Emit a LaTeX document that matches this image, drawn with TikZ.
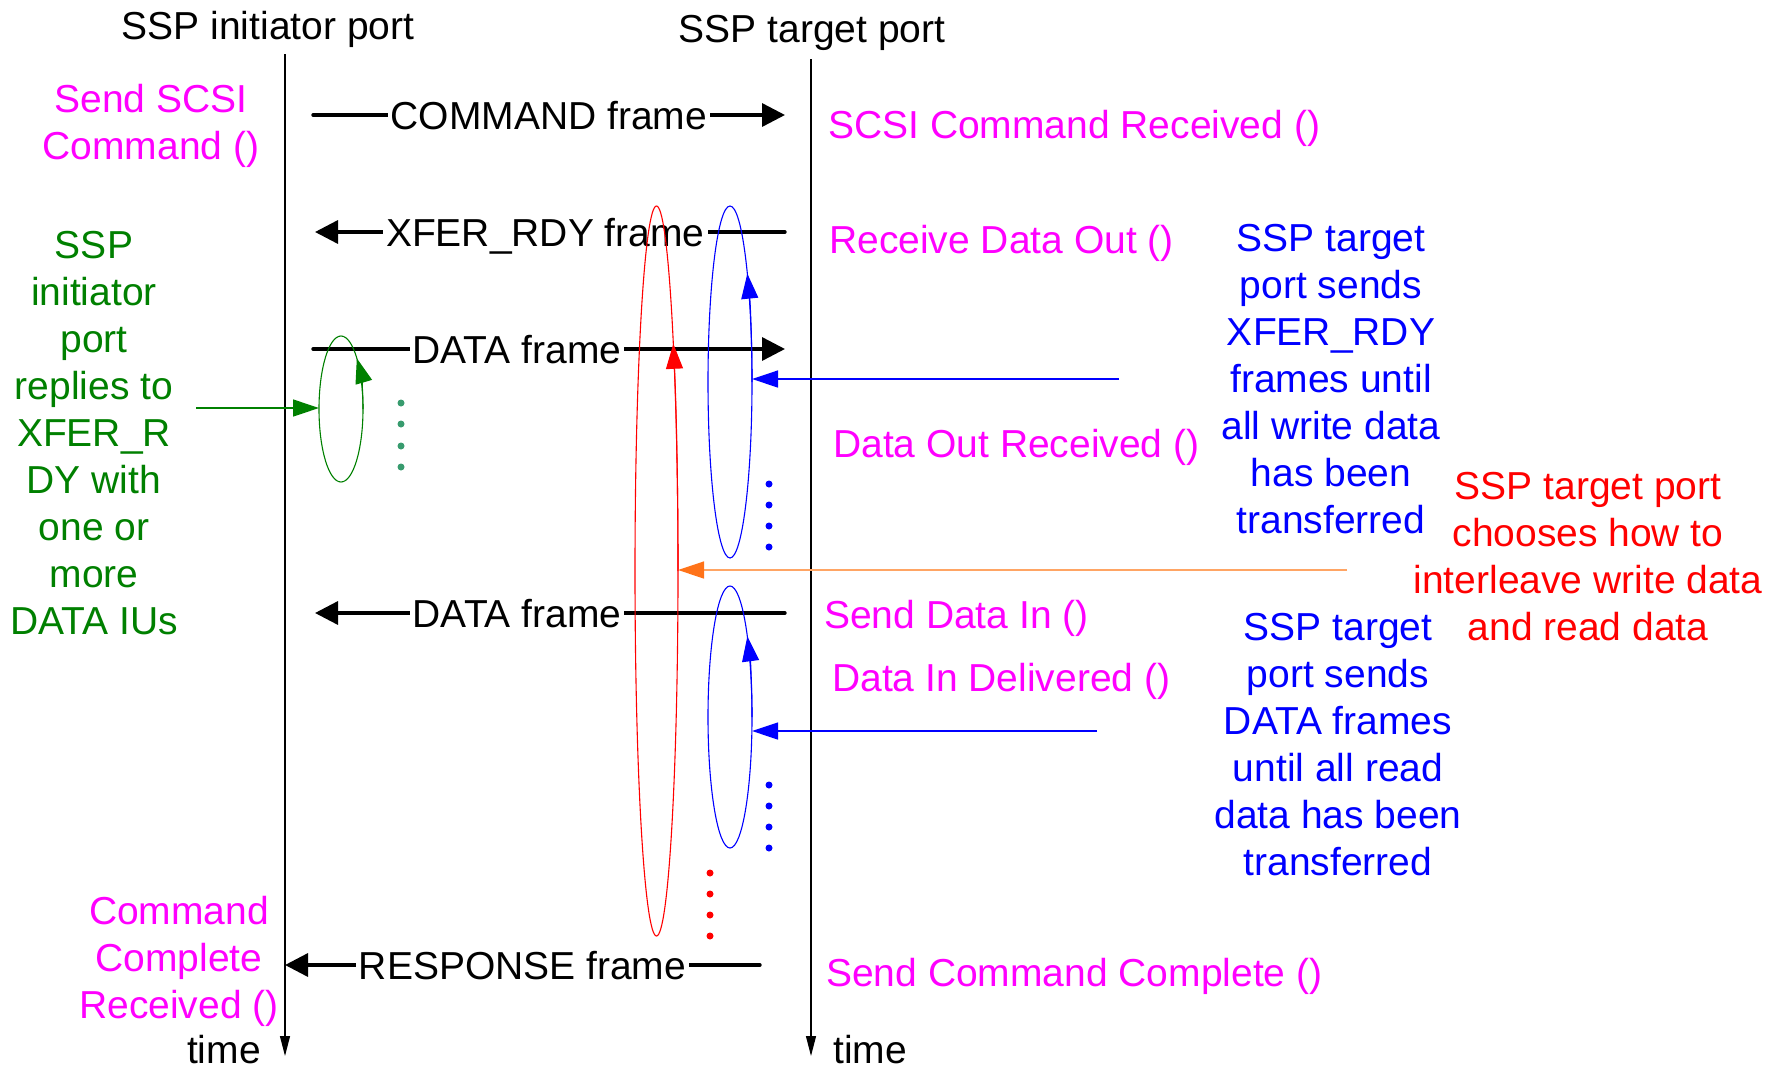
\documentclass[tikz,border=0pt]{standalone}
\usepackage{fontspec}
\setmainfont{Liberation Sans}
\usetikzlibrary{arrows.meta,shapes.geometric}

\definecolor{sspmag}{RGB}{255,0,255}
\definecolor{sspgreen}{RGB}{0,128,0}
\definecolor{sspdot}{RGB}{56,155,110}
\definecolor{sspblue}{RGB}{0,0,255}
\definecolor{sspred}{RGB}{255,0,0}
\definecolor{ssporange}{RGB}{255,115,25}
\definecolor{ssporangeline}{RGB}{255,165,100}

\begin{document}
\begin{tikzpicture}[
  x=1pt, y=-1pt,
  font=\fontsize{39}{47}\selectfont,
  every node/.style={inner sep=0pt},
  txt/.style={align=center},
  life/.style={line width=1.2pt, -{Triangle[length=20pt,width=10pt]}},
  msg/.style={line width=3.4pt, line cap=round, -{Triangle[length=23pt,width=23pt]}},
  frm/.style={fill=white, inner xsep=3pt, text height=28pt, text depth=0pt},
  oval/.style={ellipse, draw, line width=1.1pt, inner sep=0pt, outer sep=0pt},
  hint/.style={line width=1.3pt, -{Triangle[length=26pt,width=17pt]}},
  turn/.style={line width=1.1pt, -{Triangle[length=25pt,width=17pt]}}
]
\useasboundingbox (0,0) rectangle (1778,1068);

% lifelines
\node[anchor=base] (ihead) at (268,39) {SSP initiator port};
\node[anchor=base] (thead) at (812,42) {SSP target port};
\coordinate (itop) at (285,54);
\coordinate (iend) at (285,1056);
\coordinate (ttop) at (811,59);
\coordinate (tend) at (811,1056);
\draw[life] (itop) -- (iend);
\draw[life] (ttop) -- (tend);
\node[anchor=base east] (itime) at (261,1063) {time};
\node[anchor=base west] (ttime) at (833,1063) {time};

% frames
\coordinate (cmdA) at (313,115);
\coordinate (cmdB) at (785,115);
\coordinate (xfrA) at (785,232);
\coordinate (xfrB) at (315,232);
\coordinate (dtoA) at (313,349);
\coordinate (dtoB) at (785,349);
\coordinate (dtiA) at (785,613);
\coordinate (dtiB) at (315,613);
\coordinate (rspA) at (760,965);
\draw[msg] (cmdA) -- node[frm] {COMMAND frame} (cmdB);
\draw[msg] (xfrA) -- node[frm, pos=0.51] {XFER\_RDY frame} (xfrB);
\draw[msg] (dtoA) -- node[frm, pos=0.432] {DATA frame} (dtoB);
\draw[msg] (dtiA) -- node[frm, pos=0.57] {DATA frame} (dtiB);
\draw[msg] (rspA) -- node[frm] {RESPONSE frame} (rspA -| itop);

% initiator side
\node[txt, text=sspmag] (sendcmd) at (151,126) {Send SCSI\\Command ()};
\node[txt, text=sspgreen] (ireply) at (94,433.5)
  {SSP\\initiator\\port\\replies to\\XFER\_R\\DY with\\one or\\more\\DATA IUs};
\node[txt, text=sspmag] (cmddone) at (179,961) {Command\\Complete\\Received ()};

% target side
\node[anchor=base west, text=sspmag] (cmdrcv) at (828,138) {SCSI Command Received ()};
\node[anchor=base west, text=sspmag] (rcvout) at (829,253) {Receive Data Out ()};
\node[anchor=base west, text=sspmag] (outrcv) at (833,457) {Data Out Received ()};
\node[anchor=base west, text=sspmag] (sendin) at (824,628) {Send Data In ()};
\node[anchor=base west, text=sspmag] (indlv) at (832,691) {Data In Delivered ()};
\node[anchor=base west, text=sspmag] (sendcpl) at (826,986) {Send Command Complete ()};

\node[txt, text=sspblue] (xnote) at (1331,379.5)
  {SSP target\\port sends\\XFER\_RDY\\frames until\\all write data\\has been\\transferred};
\node[txt, text=sspblue] (dnote) at (1338,744.5)
  {SSP target\\port sends\\DATA frames\\until all read\\data has been\\transferred};
\node[txt, text=sspred] (mixnote) at (1588,556.5)
  {SSP target port\\chooses how to\\interleave write data\\and read data};

% loops
\node[oval, draw=sspgreen, minimum width=44pt, minimum height=146pt] (wloop) at (341,409) {};
\node[oval, draw=sspblue, minimum width=44pt, minimum height=352pt] (xloop) at (730,382) {};
\node[oval, draw=sspred, minimum width=43pt, minimum height=730pt] (rloop) at (656.5,571) {};
\node[oval, draw=sspblue, minimum width=44pt, minimum height=262pt] (dloop) at (730,717) {};

\draw[turn, sspgreen] (wloop.east) arc[start angle=0, end angle=44, x radius=22pt, y radius=73pt];
\draw[turn, sspblue] (xloop.east) arc[start angle=0, end angle=38, x radius=22pt, y radius=176pt];
\draw[turn, sspred] (rloop.east) arc[start angle=0, end angle=38.5, x radius=21.5pt, y radius=365pt];
\draw[turn, sspblue] (dloop.east) arc[start angle=0, end angle=38, x radius=22pt, y radius=131pt];

\coordinate (gfrom) at (196,408);
\coordinate (xfrom) at (1119,379);
\coordinate (ofrom) at (1347,570);
\coordinate (dfrom) at (1097,731);
\draw[hint, sspgreen] (gfrom) -- (gfrom -| wloop.west);
\draw[hint, sspblue] (xfrom) -- (xfrom -| xloop.east);
\draw[hint, draw=ssporangeline, -{Triangle[length=26pt,width=17pt,color=ssporange]}] (ofrom) -- (ofrom -| rloop.east);
\draw[hint, sspblue] (dfrom) -- (dfrom -| dloop.east);

% more frames follow
\foreach \y in {403,424,446,467} \fill[sspdot] (401,\y) circle (3.5pt);
\foreach \y in {484,505,526,547} \fill[sspblue] (769,\y) circle (3.5pt);
\foreach \y in {785,806,827,848} \fill[sspblue] (769,\y) circle (3.5pt);
\foreach \y in {873,894,915,936} \fill[sspred] (710,\y) circle (3.5pt);
\end{tikzpicture}
\end{document}
